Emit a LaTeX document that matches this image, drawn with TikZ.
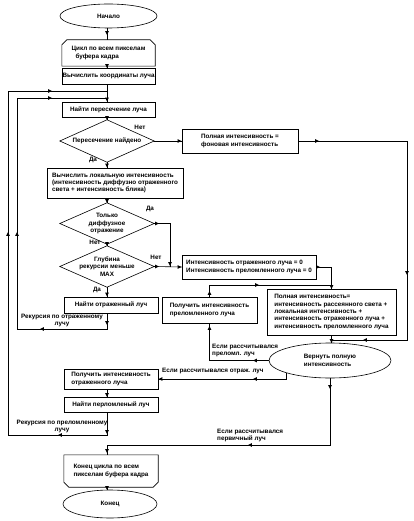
\documentclass[tikz,border=0pt]{standalone}
\usepackage{fontspec}
\setmainfont{Liberation Sans}
\usetikzlibrary{shapes.geometric}
\tikzset{
  base/.style={font=\fontsize{6.3}{7.3}\selectfont\bfseries, inner sep=0pt, align=left},
  proc/.style={base, draw=black, line width=0.6pt, fill=white, rectangle},
  term/.style={base, draw=black, line width=0.6pt, fill=white, ellipse, align=center},
  plain/.style={base, rectangle},
  lbl/.style={base},
  ln/.style={line width=0.6pt, draw=black},
  ah/.pic={\fill (0pt,0pt) -- (-3.8pt,1.8pt) -- (-3.8pt,-1.8pt) -- cycle;}
}
\begin{document}
\begin{tikzpicture}[x=1pt,y=-1pt]
\useasboundingbox (0,0) rectangle (413,521);

% ---------- nodes ----------
\node[term, minimum width=97pt, minimum height=24pt] (start) at (108.5,16) {Начало};
\node[plain, minimum width=93pt, minimum height=26pt] (loop) at (108.5,53) {Цикл по всем пикселам\\\hspace*{4pt}буфера кадра};
\node[proc, minimum width=93pt, minimum height=16pt] (coords) at (108.5,76) {Вычислить координаты луча};
\node[proc, minimum width=93pt, minimum height=15pt] (inter) at (108.5,109.5) {Найти пересечение луча};
\node[plain, minimum width=94pt, minimum height=42pt, align=center] (d1) at (107,141) {Пересечение найдено};
\node[proc, minimum width=116pt, minimum height=24pt] (bg) at (240,141) {Полная интенсивность =\\фоновая интенсивность};
\node[proc, minimum width=136pt, minimum height=30pt] (local) at (115,183) {Вычислить локальную интенсивность\\(интенсивность диффузно отраженного\\света + интенсивность блика)};
\node[plain, minimum width=94pt, minimum height=41pt, align=center] (d2) at (107,223.5) {Только\\диффузное\\отражение};
\node[plain, minimum width=94pt, minimum height=41pt, align=center] (d3) at (107,266.5) {Глубина\\рекурсии меньше\\MAX};
\node[proc, minimum width=134pt, minimum height=24pt] (zero) at (249,267) {Интенсивность отраженного луча = 0\\Интенсивность преломленного луча = 0};
\node[proc, minimum width=129pt, minimum height=46pt] (full) at (331.5,312) {Полная интенсивность=\\интенсивность рассеянного света +\\локальная интенсивность +\\интенсивность отраженного луча +\\интенсивность преломленного луча};
\node[proc, minimum width=95pt, minimum height=26pt] (refr) at (209.5,310) {Получить интенсивность\\преломленного луча};
\node[proc, minimum width=94pt, minimum height=16pt] (rfind) at (111,305) {Найти отраженный луч};
\node[term, minimum width=122pt, minimum height=35pt, align=left] (ret) at (330,360.5) {Вернуть полную\\интенсивность};
\node[proc, minimum width=94pt, minimum height=20pt] (rint) at (111,379) {Получить интенсивность\\отраженного луча};
\node[proc, minimum width=94pt, minimum height=15pt] (pfind) at (111,404.5) {Найти перломленый луч};
\node[plain, minimum width=94pt, minimum height=32pt] (endloop) at (111,471) {Конец цикла по всем\\пикселам буфера кадра};
\node[term, minimum width=94pt, minimum height=28pt] (endell) at (110,504) {Конец};

% shaped outlines
\draw[ln] ([xshift=5pt]loop.north west) -- ([xshift=-5pt]loop.north east) -- ([yshift=-5pt]loop.north east) -- (loop.south east) -- (loop.south west) -- ([yshift=-5pt]loop.north west) -- cycle;
\draw[ln] (endloop.north west) -- (endloop.north east) -- ([yshift=5pt]endloop.south east) -- ([xshift=-5pt]endloop.south east) -- ([xshift=5pt]endloop.south west) -- ([yshift=5pt]endloop.south west) -- cycle;
\foreach \d in {d1,d2,d3}{\draw[ln] (\d.north) -- (\d.east) -- (\d.south) -- (\d.west) -- cycle;}

% ---------- coordinates ----------
\coordinate (axis) at (107,0);
\coordinate (A1) at (107,91);  \coordinate (A2) at (107,98);
\coordinate (R1) at (107,435); \coordinate (R1l) at (8,435);  \coordinate (R1t) at (8,91);
\coordinate (R2) at (107,329); \coordinate (R2l) at (17,329); \coordinate (R2t) at (17,98);
\coordinate (E1) at (407,141); \coordinate (E2) at (407,340); \coordinate (E3) at (331.5,340);
\coordinate (J1) at (170,223.5); \coordinate (J2) at (170,266.5);
\coordinate (K1) at (209.5,285); \coordinate (K2) at (331.5,285);
\coordinate (B1) at (330,445); \coordinate (B2) at (107,445);

% ---------- connectors ----------
\draw[ln] (start.south -| axis) -- (loop.north -| axis);
\draw[ln] (loop.south -| axis) -- (coords.north -| axis);
\draw[ln] (coords.south -| axis) -- (inter.north -| axis);
\draw[ln] (inter.south -| axis) -- (d1.north);
\draw[ln] (d1.east) -- (bg.west);
\draw[ln] (d1.south) -- (local.north -| axis);
\draw[ln] (bg.east) -- (E1) -- (E2) -- (E3);
\draw[ln] (local.south -| axis) -- (d2.north);
\draw[ln] (d2.east) -- (J1) -- (J2);
\draw[ln] (d2.south) -- (d3.north);
\draw[ln] (d3.east) -- (zero.west);
\draw[ln] (d3.south) -- (rfind.north -| axis);
\draw[ln] (zero.east) -- (zero.east -| full.north) -- (full.north);
\draw[ln] (refr.north) -- (K1) -- (K2);
\draw[ln] (full.south) -- (full.south |- ret.north);
\draw[ln] (ret.west) -- (ret.west -| refr.south) -- (refr.south);
\draw[ln] (ret.south west) |- (rint.east);
\draw[ln] (ret.south) -- (B1) -- (B2) -- (endloop.north -| axis);
\draw[ln] (rfind.south -| axis) -- (R2) -- (R2l) -- (R2t) -- (A2);
\draw[ln] (rint.south -| axis) -- (pfind.north -| axis);
\draw[ln] (pfind.south -| axis) -- (R1) -- (R1l) -- (R1t) -- (A1);
\draw[ln] (endloop.south -| axis) -- (endell.north -| axis);

% ---------- arrowheads ----------
\foreach \p in {(107,35),(107,68),(107,101.5),(107,120),(107,167.5),(107,203),(107,246),(107,296.5),(107,325),(107,397),(107,434),(107,453),(107,490),(407,275),(331.5,289),(331.5,343),(330,389),(170,266)}
  \pic[rotate=-90] at \p {ah};
\foreach \p in {(52,91),(52,98),(181.5,141),(319,141),(159,223.5),(159,266.5),(181.5,267),(320,267),(259,285)}
  \pic at \p {ah};
\foreach \p in {(363,340),(253,360.5),(253,379),(158.5,379),(248,445),(40,329),(58,435)}
  \pic[rotate=180] at \p {ah};
\foreach \p in {(8,232),(17,232),(209.5,291),(209.5,326)}
  \pic[rotate=90] at \p {ah};

% ---------- labels ----------
\node[lbl] (l1) at (140,127) {Нет};
\node[lbl] (l2) at (93,160) {Да};
\node[lbl] (l3) at (150,209) {Да};
\node[lbl] (l4) at (95,242) {Нет};
\node[lbl] (l5) at (156,257) {Нет};
\node[lbl] (l6) at (97,290) {Да};
\node[lbl, align=center] (l7) at (62,320.5) {Рекурсия по отраженному\\лучу};
\node[lbl, align=center] (l8) at (62,426.5) {Рекурсия по преломленному\\лучу};
\node[lbl, anchor=west] (l9) at (212,350.5) {Если рассчитывался\\преломл. луч};
\node[lbl, anchor=west] (l10) at (162,370.5) {Если рассчитывался отраж. луч};
\node[lbl, anchor=west] (l11) at (217,435.5) {Если рассчитывался\\первичный луч};
\end{tikzpicture}
\end{document}
